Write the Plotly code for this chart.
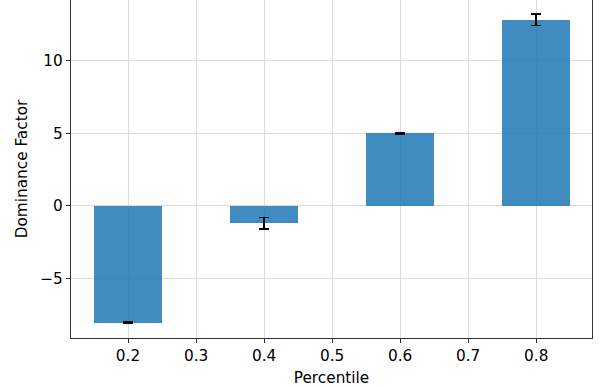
import plotly.graph_objects as go

percentiles = [0.2, 0.4, 0.6, 0.8]
dominance = [-8.05, -1.2, 5.0, 12.83]
errors = [0.04, 0.4, 0.03, 0.4]
x_ticks = [0.2, 0.3, 0.4, 0.5, 0.6, 0.7, 0.8]
y_ticks = [-5, 0, 5, 10]

fig = go.Figure()
fig.add_trace(go.Bar(
    x=percentiles, y=dominance, width=0.1,
    marker=dict(color="#1f77b4", opacity=0.85, line=dict(width=0)),
    error_y=dict(type="data", array=errors, visible=True, color="black",
                 thickness=1.6, width=5),
))

font = dict(family="DejaVu Sans", size=15.3, color="black")
fig.update_layout(
    width=600, height=387,
    margin=dict(l=71, r=8, t=0, b=49),
    plot_bgcolor="white", paper_bgcolor="white",
    font=font, showlegend=False, bargap=0,
    xaxis=dict(range=[0.1162, 0.882], tickvals=x_ticks,
               ticktext=[f"{v:.1f}" for v in x_ticks],
               showgrid=True, gridcolor="#dcdcdc", gridwidth=1,
               showline=True, linecolor="#333", linewidth=1.2, mirror=False,
               ticks="outside", ticklen=4, tickcolor="#333",
               title=dict(text="Percentile", font=font, standoff=8),
               zeroline=False, automargin=False),
    yaxis=dict(range=[-9.1, 14.18], tickvals=y_ticks,
               ticktext=["\u22125", "0", "5", "10"],
               showgrid=True, gridcolor="#dcdcdc", gridwidth=1,
               showline=True, linecolor="#333", linewidth=1.2, mirror=True,
               ticks="outside", ticklen=4, tickcolor="#333",
               title=dict(text="Dominance Factor", font=font, standoff=8),
               zeroline=False, automargin=False),
)
fig.write_html("out.html", config={"displayModeBar": False},
               post_script="document.body.style.margin='0';document.body.style.overflow='hidden';")
